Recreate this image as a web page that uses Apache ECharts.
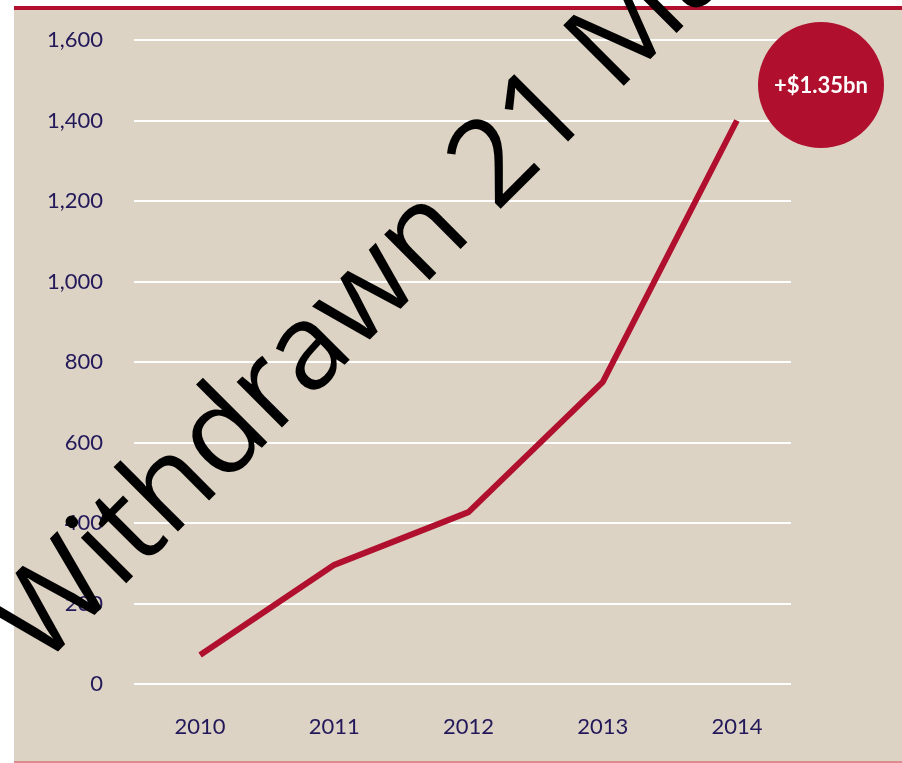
<!DOCTYPE html>
<html>
<head>
<meta charset="utf-8">
<script src="https://cdn.jsdelivr.net/npm/echarts@6/dist/echarts.min.js"></script>
<style>html,body{margin:0;padding:0;background:#fff}#c{width:902px;height:763px}</style>
</head>
<body>
<div id="c"></div>
<script>
const years = ['2010', '2011', '2012', '2013', '2014'];
const values = [72, 296, 427, 750, 1400];
const yTicks = [0, 200, 400, 600, 800, 1000, 1200, 1400, 1600];
const badgeText = '+$1.35bn';
const watermark = 'Withdrawn 21 May 2015';

const chart = echarts.init(document.getElementById('c'));
const labelColor = '#22185a';
const red = '#b0102e';
chart.setOption({
  backgroundColor: '#ffffff',
  animation: false,
  grid: [
    {left: 134, right: 111, top: 40, bottom: 79},
    {left: 133, right: 98, top: 40, bottom: 79}
  ],
  xAxis: [
    {gridIndex: 0, type: 'category', data: years, show: false},
    {gridIndex: 1, type: 'category', data: years, boundaryGap: true,
     axisLine: {show: false}, axisTick: {show: false},
     axisLabel: {color: labelColor, fontSize: 22, fontFamily: 'Lato', margin: 32}}
  ],
  yAxis: [
    {gridIndex: 0, type: 'value', min: yTicks[0], max: yTicks[yTicks.length - 1], interval: 200,
     axisLine: {show: false}, axisTick: {show: false},
     axisLabel: {color: labelColor, fontSize: 22, fontFamily: 'Lato', margin: 31,
       formatter: v => v.toLocaleString('en-US')},
     splitLine: {lineStyle: {color: '#ffffff', width: 2}}},
    {gridIndex: 1, type: 'value', min: yTicks[0], max: yTicks[yTicks.length - 1], interval: 200,
     show: false, splitLine: {show: false}}
  ],
  series: [{
    type: 'line', xAxisIndex: 1, yAxisIndex: 1, data: values,
    symbol: 'none', lineStyle: {color: red, width: 6}, z: 5
  }],
  graphic: [
    {type: 'rect', z: -10, silent: true, shape: {x: 14, y: 10, width: 888, height: 752}, style: {fill: '#dcd3c4'}},
    {type: 'rect', z: -9, silent: true, shape: {x: 14, y: 6, width: 888, height: 4}, style: {fill: red}},
    {type: 'rect', z: -9, silent: true, shape: {x: 14, y: 761, width: 888, height: 2}, style: {fill: '#e08a90'}},
    {type: 'circle', z: 50, shape: {cx: 821, cy: 85, r: 63}, style: {fill: red}},
    {type: 'text', z: 51, x: 821, y: 86, style: {text: badgeText, fill: '#ffffff', font: 'bold 22px Lato', align: 'center', verticalAlign: 'middle'}},
    {type: 'text', z: 100, x: 59, y: 687, rotation: Math.PI / 4,
     style: {text: watermark, fill: '#000000', font: '120px "Open Sans"', align: 'left', verticalAlign: 'bottom'}}
  ]
});
</script>
</body>
</html>
